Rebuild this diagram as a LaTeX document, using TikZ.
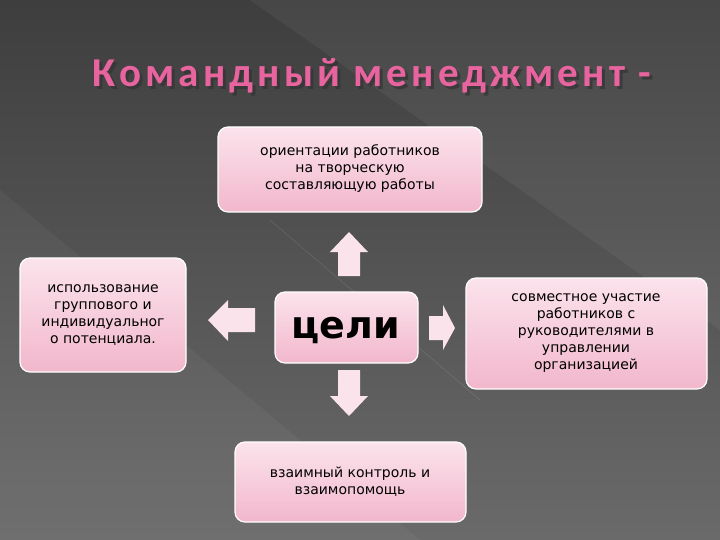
\documentclass[tikz,border=0pt]{standalone}
\usepackage{fontspec}
\setmainfont{DejaVu Sans}
\newfontfamily\titlefont[LetterSpace=10]{Carlito}
\definecolor{bgA}{HTML}{3E3E3E}
\definecolor{bgB}{HTML}{6A6A6A}
\definecolor{pinkA}{HTML}{FBE3EC}
\definecolor{pinkB}{HTML}{F2B7CC}
\definecolor{titlepink}{HTML}{E8649E}
\tikzset{
  card/.style={draw=white, line width=1.2pt, rounded corners=10pt, top color=pinkA, bottom color=pinkB},
  cardtext/.style={align=center, font=\fontsize{14}{17}\selectfont, text=black},
  blockarrow/.style={fill=pinkA, draw=none},
}
\begin{document}
\begin{tikzpicture}[x=1pt,y=-1pt]
\shade[top color=bgA, bottom color=bgB] (0,0) rectangle (720,540);
\fill[white,opacity=0.05] (250,0) -- (720,0) -- (720,330) -- cycle;
\fill[white,opacity=0.04] (0,190) -- (0,540) -- (420,540) -- cycle;
\draw[white,opacity=0.15] (270,220) -- (480,400);
\useasboundingbox (0,0) rectangle (720,540);

\node[font=\titlefont\bfseries\fontsize{41}{44}\selectfont, text=black!80, opacity=0.7] at (375,79) {Командный менеджмент -};
\node (title) [font=\titlefont\bfseries\fontsize{41}{44}\selectfont, text=titlepink] at (372,76) {Командный менеджмент -};

\path[card] (218,127) rectangle (482,212);
\node (top) at (350,169) [cardtext] {ориентации работников\\на творческую\\составляющую работы};
\path[card] (20,258) rectangle (186,372);
\node (left) at (103,315) [cardtext] {использование\\группового и\\индивидуальног\\о потенциала.};
\path[card] (275,292) rectangle (418,363);
\node (center) at (346,330) [font=\bfseries\fontsize{38}{40}\selectfont] {цели};
\path[card] (466,278) rectangle (707,389);
\node (right) at (586,333) [cardtext] {совместное участие\\работников с\\руководителями в\\управлении\\организацией};
\path[card] (235,442) rectangle (466,522);
\node (bottom) at (350,482) [cardtext] {взаимный контроль и\\взаимопомощь};

\fill[blockarrow] (338,276) -- (338,252) -- (330,252) -- (349,232) -- (368,252) -- (360,252) -- (360,276) -- cycle;
\fill[blockarrow] (255,308) -- (228,308) -- (228,300) -- (208,320) -- (228,341) -- (228,332) -- (255,332) -- cycle;
\fill[blockarrow] (429,316) -- (443,316) -- (443,305) -- (455,328) -- (443,350) -- (443,340) -- (429,340) -- cycle;
\fill[blockarrow] (338,370) -- (338,396) -- (330,396) -- (349,416) -- (368,396) -- (360,396) -- (360,370) -- cycle;
\end{tikzpicture}
\end{document}
